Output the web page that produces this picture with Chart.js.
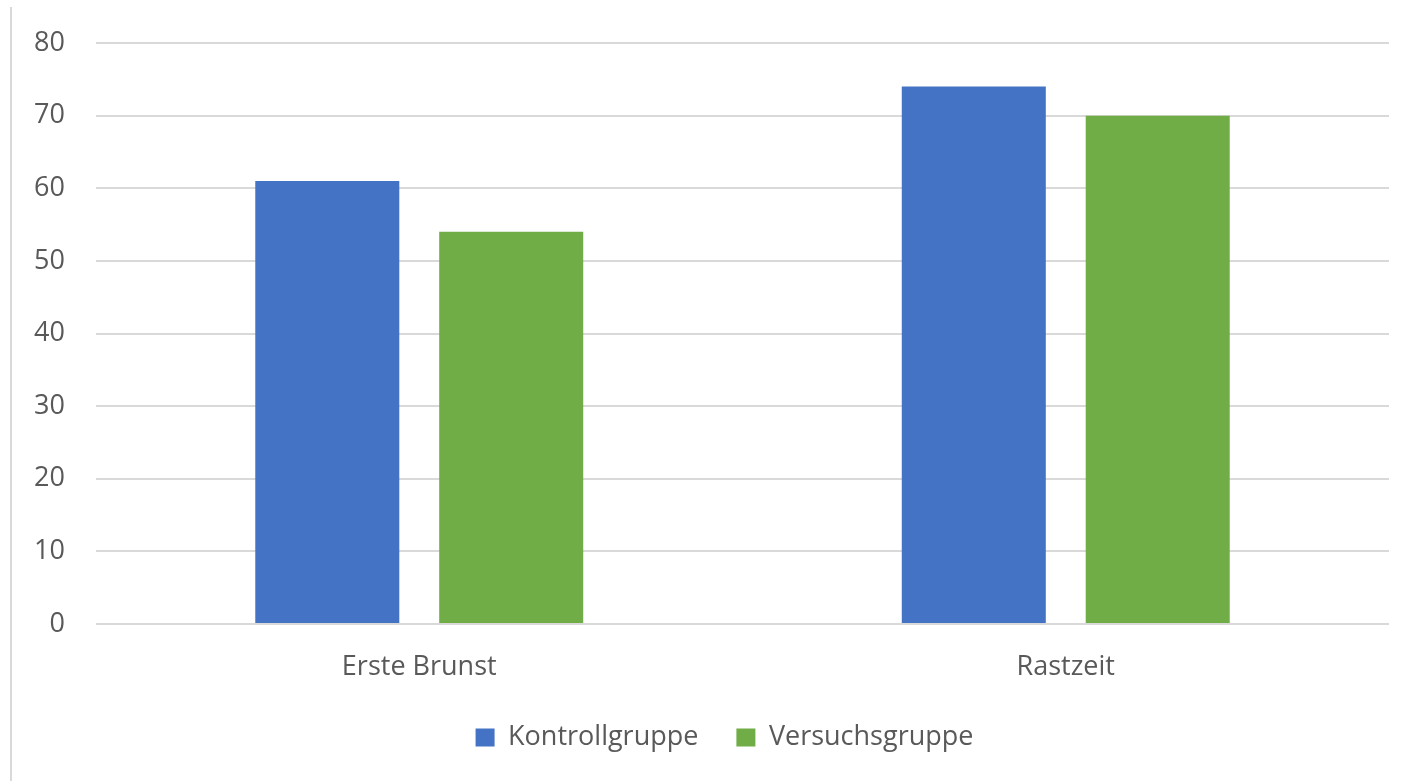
<!DOCTYPE html>
<html>
<head>
<meta charset="utf-8">
<script src="https://cdn.jsdelivr.net/npm/chart.js@4.4.1/dist/chart.umd.min.js"></script>
<style>
  html, body { margin: 0; padding: 0; background: #fff; }
  #wrap { position: relative; width: 1412px; height: 781px; }
  #frame { position: absolute; left: 10px; top: 7px; bottom: 0; width: 0; border-left: 2px solid #d9d9d9; }
  canvas { position: absolute; left: 0; top: 0; }
</style>
</head>
<body>
<div id="wrap">
  <div id="frame"></div>
  <canvas id="chart" width="1412" height="781"></canvas>
</div>
<script>
Chart.defaults.font.family = "'Open Sans', sans-serif"
Chart.defaults.font.size = 27
Chart.defaults.color = "#595959"

// values
const categories = ["Erste Brunst", "Rastzeit"]
const kontrolle = [61, 74]
const versuch = [54, 70]
const yTicks = [0, 10, 20, 30, 40, 50, 60, 70, 80]

// the legend in the picture sits a bit right of the canvas centre
const legendShift = {
	id: 'legendShift',
	afterLayout: chart => {
		chart.legend.left += 30
		chart.legend.right += 30
	}
}

const ctx = document.getElementById("chart")
let chart = new Chart(ctx, {
	type: 'bar',
	data: {
		labels: categories,
		datasets: [
			{label: "Kontrollgruppe", data: kontrolle, backgroundColor: "#4472C4"},
			{label: "Versuchsgruppe", data: versuch, backgroundColor: "#70AD47"},
		]
	},
	options: {
		responsive: false,
		animation: false,
		categoryPercentage: 0.569,
		barPercentage: 0.783,
		layout: { padding: { top: 43, right: 23, left: 0, bottom: 20 } },
		plugins: {
			tooltip: { enabled: false },
			legend: {
				position: 'bottom',
				labels: { boxWidth: 19, boxHeight: 18, padding: 38, useBorderRadius: false }
			}
		},
		scales: {
			x: {
				grid: { display: false },
				border: { display: false },
				ticks: { padding: 19 },
				afterFit: s => { s.height = 62 }
			},
			y: {
				min: 0, max: 80,
				afterBuildTicks: s => { s.ticks = yTicks.map(v => ({value: v})) },
				grid: { color: "#d9d9d9", lineWidth: 2, drawTicks: false },
				border: { display: false },
				ticks: { padding: 31 },
				afterFit: s => { s.width = 96; s.paddingTop = 0 }
			}
		}
	},
	plugins: [legendShift]
})
</script>
</body>
</html>
